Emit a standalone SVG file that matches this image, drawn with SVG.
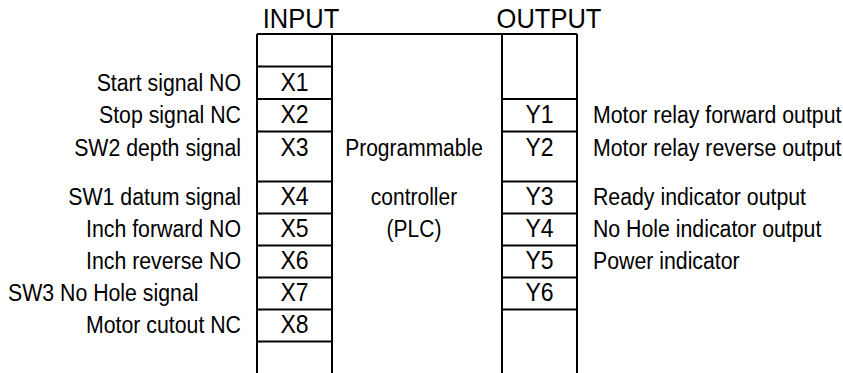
<svg xmlns="http://www.w3.org/2000/svg" width="843" height="373" viewBox="0 0 843 373">
  <style>
    .ln { stroke: #000; stroke-width: 2; fill: none; }
    text { font-family: "Liberation Sans", Arial, sans-serif; fill: #000; }
    .hd { font-size: 25.5px; text-anchor: middle; }
    .cell { font-size: 23px; text-anchor: middle; }
    .lbl { font-size: 21.3px; }
    .lblL { font-size: 21.3px; text-anchor: end; }
    .mid { font-size: 21px; text-anchor: middle; }
  </style>
  <rect width="843" height="373" fill="#fff"/>

  <!-- PLC outline: top edge and the four vertical edges -->
  <g id="plc-frame">
    <path class="ln" d="M257 34 H577 M257 34 V373 M332 34 V373 M502 34 V373 M577 34 V373"/>
  </g>

  <!-- terminal row dividers -->
  <g id="input-rows">
    <path class="ln" d="M257 66.5 H332 M257 99 H332 M257 131.5 H332 M257 181.5 H332 M257 213.5 H332 M257 245.5 H332 M257 277.5 H332 M257 309.5 H332 M257 341.5 H332"/>
  </g>
  <g id="output-rows">
    <path class="ln" d="M502 99 H577 M502 131.5 H577 M502 181.5 H577 M502 213.5 H577 M502 245.5 H577 M502 277.5 H577 M502 309.5 H577"/>
  </g>

  <!-- all lettering is set slightly tall: y values are divided by 1.1 -->
  <g transform="scale(1 1.1)">
    <g id="headers">
      <text class="hd" x="301" y="25.5">INPUT</text>
      <text class="hd" x="549" y="25.5">OUTPUT</text>
    </g>

    <g id="input-terminals">
      <text class="cell" x="294.5" y="82.7">X1</text>
      <text class="cell" x="294.5" y="112.2">X2</text>
      <text class="cell" x="294.5" y="141.8">X3</text>
      <text class="cell" x="294.5" y="186.4">X4</text>
      <text class="cell" x="294.5" y="215.5">X5</text>
      <text class="cell" x="294.5" y="244.5">X6</text>
      <text class="cell" x="294.5" y="273.6">X7</text>
      <text class="cell" x="294.5" y="302.7">X8</text>
    </g>

    <g id="output-terminals">
      <text class="cell" x="539.5" y="112.2">Y1</text>
      <text class="cell" x="539.5" y="141.8">Y2</text>
      <text class="cell" x="539.5" y="186.4">Y3</text>
      <text class="cell" x="539.5" y="215.5">Y4</text>
      <text class="cell" x="539.5" y="244.5">Y5</text>
      <text class="cell" x="539.5" y="273.6">Y6</text>
    </g>

    <g id="plc-body">
      <text class="mid" x="414" y="141.8">Programmable</text>
      <text class="mid" x="414" y="186.4">controller</text>
      <text class="mid" x="414" y="215.5">(PLC)</text>
    </g>

    <g id="input-labels">
      <text class="lblL" x="241" y="82.7">Start signal NO</text>
      <text class="lblL" x="241" y="112.2">Stop signal NC</text>
      <text class="lblL" x="241" y="141.8">SW2 depth signal</text>
      <text class="lblL" x="241" y="186.4">SW1 datum signal</text>
      <text class="lblL" x="241" y="215.5">Inch forward NO</text>
      <text class="lblL" x="241" y="244.5">Inch reverse NO</text>
      <text class="lbl" x="8" y="273.6">SW3 No Hole signal</text>
      <text class="lblL" x="241" y="302.7">Motor cutout NC</text>
    </g>

    <g id="output-labels">
      <text class="lbl" x="593" y="112.2">Motor relay forward output</text>
      <text class="lbl" x="593" y="141.8">Motor relay reverse output</text>
      <text class="lbl" x="593" y="186.4">Ready indicator output</text>
      <text class="lbl" x="593" y="215.5">No Hole indicator output</text>
      <text class="lbl" x="593" y="244.5">Power indicator</text>
    </g>
  </g>
</svg>
